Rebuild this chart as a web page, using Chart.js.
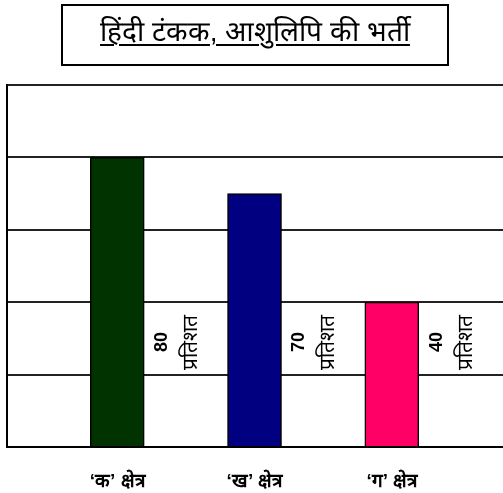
<!DOCTYPE html>
<html>
<head>
<meta charset="utf-8">
<script src="https://cdn.jsdelivr.net/npm/chart.js@4"></script>
<style>
	html, body { margin: 0; padding: 0; background: #fff; }
	#wrap { position: relative; width: 503px; height: 493px; overflow: hidden; }
	#chart { position: absolute; left: 0; top: 0; }
	.title-box {
		position: absolute; left: 61px; top: 4px; width: 384px; height: 58px;
		border: 2px solid #000; text-align: center;
		font-family: "Liberation Sans", Arial, sans-serif; font-size: 28px;
		line-height: 52px; color: #000;
	}
	.title-box span { text-decoration: underline; text-underline-offset: 3px; text-decoration-thickness: 2px; }
</style>
</head>
<body>
<div id="wrap">
	<canvas id="chart" width="503" height="493"></canvas>
	<div class="title-box"><span>हिंदी टंकक, आशुलिपि की भर्ती</span></div>
</div>
<script>
(function () {
	'use strict';

	var categories = ['‘क’ क्षेत्र', '‘ख’ क्षेत्र', '‘ग’ क्षेत्र'];
	var percentValues = [80, 70, 40];
	var barColors = ['#003300', '#000080', '#ff0066'];
	var labelSuffix = 'प्रतिशत';

	// value labels, drawn sideways to the right of each bar
	var sideLabels = {
		id: 'sideLabels',
		afterDatasetsDraw: function (chart) {
			var ctx = chart.ctx;
			var meta = chart.getDatasetMeta(0);
			var yMid = chart.scales.y.getPixelForValue(29);
			ctx.save();
			ctx.fillStyle = '#000';
			ctx.textAlign = 'center';
			ctx.textBaseline = 'middle';
			meta.data.forEach(function (bar, i) {
				ctx.save();
				ctx.translate(bar.x + 60, yMid);
				ctx.rotate(-Math.PI / 2);
				ctx.font = 'bold 18px "Liberation Sans", Arial, sans-serif';
				ctx.fillText(String(percentValues[i]), 0, -15);
				ctx.font = '21px "Liberation Sans", Arial, sans-serif';
				ctx.fillText(labelSuffix, 0, 14);
				ctx.restore();
			});
			ctx.restore();
		}
	};

	new Chart(document.getElementById('chart'), {
		type: 'bar',
		data: {
			datasets: [{
				data: percentValues.map(function (v, i) { return { x: i, y: v }; }),
				backgroundColor: barColors,
				borderColor: '#000',
				borderWidth: 1.5,
				barThickness: 54
			}]
		},
		options: {
			responsive: false,
			animation: false,
			layout: { padding: { left: 7, top: 85, right: 0, bottom: 0 } },
			plugins: {
				legend: { display: false },
				tooltip: { enabled: false }
			},
			scales: {
				x: {
					type: 'linear',
					offset: false,
					min: -0.803,
					max: 2.81,
					grid: { display: false },
					border: { display: true, color: '#000', width: 2 },
					afterFit: function (scale) {
						scale.height = 46;
						scale.paddingLeft = 0;
						scale.paddingRight = 0;
					},
					ticks: {
						stepSize: 1,
						padding: 15,
						maxRotation: 0,
						autoSkip: false,
						color: '#000',
						font: { size: 19, weight: 'bold', family: '"Liberation Sans", Arial, sans-serif' },
						callback: function (v) { return Number.isInteger(v) && v >= 0 ? categories[v] : ''; }
					}
				},
				y: {
					min: 0,
					max: 100,
					grid: { color: '#222', lineWidth: 2, drawTicks: false },
					border: { display: true, color: '#000', width: 2 },
					ticks: { display: false, stepSize: 20 }
				}
			}
		},
		plugins: [sideLabels]
	});
})();
</script>
</body>
</html>
